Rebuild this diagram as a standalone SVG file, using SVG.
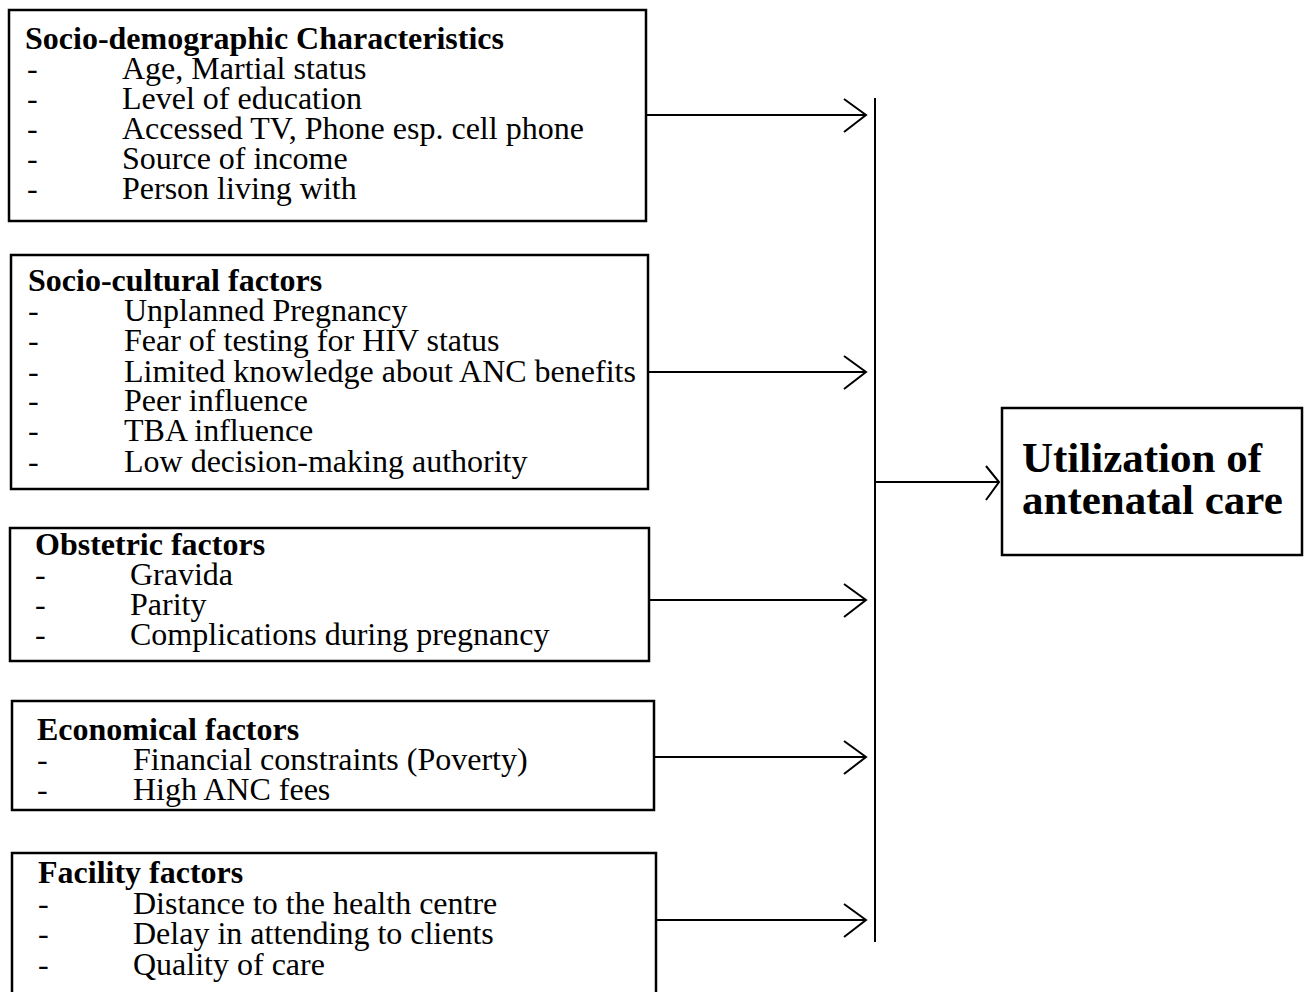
<svg xmlns="http://www.w3.org/2000/svg" width="1304" height="992" viewBox="0 0 1304 992">
<style>
.box{fill:#fff;stroke:#000;stroke-width:2.5}
.t{font-family:"Liberation Serif","Times New Roman",serif;font-size:32px;fill:#000}
.b{font-weight:bold}
.big{font-family:"Liberation Serif","Times New Roman",serif;font-size:43px;font-weight:bold;fill:#000}
.ln{stroke:#000;stroke-width:2;fill:none}
</style>
<defs>
<marker id="chev" viewBox="-26 -20 30 40" refX="0" refY="0" markerWidth="30" markerHeight="40" markerUnits="userSpaceOnUse" orient="auto" overflow="visible">
<path d="M-22,-16 L0,0 L-22,17" fill="none" stroke="#000" stroke-width="2"/>
</marker>
<marker id="chev2" viewBox="-20 -20 24 40" refX="0" refY="0" markerWidth="24" markerHeight="40" markerUnits="userSpaceOnUse" orient="auto" overflow="visible">
<path d="M-13,-16 L0,0 L-13,18" fill="none" stroke="#000" stroke-width="2"/>
</marker>
</defs>
<rect width="1304" height="992" fill="#fff"/>

<g id="connectors">
<line class="ln" x1="875" y1="98" x2="875" y2="942"/>
<line class="ln" x1="646" y1="115" x2="866" y2="115" marker-end="url(#chev)"/>
<line class="ln" x1="648" y1="372" x2="866" y2="372" marker-end="url(#chev)"/>
<line class="ln" x1="649" y1="600" x2="866" y2="600" marker-end="url(#chev)"/>
<line class="ln" x1="654" y1="757" x2="866" y2="757" marker-end="url(#chev)"/>
<line class="ln" x1="656" y1="920" x2="866" y2="920" marker-end="url(#chev)"/>
<line class="ln" x1="875" y1="482" x2="999" y2="482" marker-end="url(#chev2)"/>
</g>

<g id="sociodemographic">
<rect class="box" x="9" y="10" width="637" height="211"/>
<text class="t b" x="25" y="49">Socio-demographic Characteristics</text>
<text class="t" x="27" y="79">-</text><text class="t" x="122" y="79">Age, Martial status</text>
<text class="t" x="27" y="109">-</text><text class="t" x="122" y="109">Level of education</text>
<text class="t" x="27" y="139">-</text><text class="t" x="122" y="139">Accessed TV, Phone esp. cell phone</text>
<text class="t" x="27" y="169">-</text><text class="t" x="122" y="169">Source of income</text>
<text class="t" x="27" y="199">-</text><text class="t" x="122" y="199">Person living with</text>
</g>

<g id="sociocultural">
<rect class="box" x="11" y="255" width="637" height="234"/>
<text class="t b" x="28" y="291">Socio-cultural factors</text>
<text class="t" x="28" y="321">-</text><text class="t" x="124" y="321">Unplanned Pregnancy</text>
<text class="t" x="28" y="351">-</text><text class="t" x="124" y="351">Fear of testing for HIV status</text>
<text class="t" x="28" y="382">-</text><text class="t" x="124" y="382">Limited knowledge about ANC benefits</text>
<text class="t" x="28" y="411">-</text><text class="t" x="124" y="411">Peer influence</text>
<text class="t" x="28" y="441">-</text><text class="t" x="124" y="441">TBA influence</text>
<text class="t" x="28" y="472">-</text><text class="t" x="124" y="472">Low decision-making authority</text>
</g>

<g id="obstetric">
<rect class="box" x="10" y="528" width="639" height="133"/>
<text class="t b" x="35" y="555">Obstetric factors</text>
<text class="t" x="35" y="585">-</text><text class="t" x="130" y="585">Gravida</text>
<text class="t" x="35" y="615">-</text><text class="t" x="130" y="615">Parity</text>
<text class="t" x="35" y="645">-</text><text class="t" x="130" y="645">Complications during pregnancy</text>
</g>

<g id="economical">
<rect class="box" x="12" y="701" width="642" height="109"/>
<text class="t b" x="37" y="740">Economical factors</text>
<text class="t" x="37" y="770">-</text><text class="t" x="133" y="770">Financial constraints (Poverty)</text>
<text class="t" x="37" y="800">-</text><text class="t" x="133" y="800">High ANC fees</text>
</g>

<g id="facility">
<rect class="box" x="12" y="853" width="644" height="150"/>
<text class="t b" x="38" y="883">Facility factors</text>
<text class="t" x="38" y="914">-</text><text class="t" x="133" y="914">Distance to the health centre</text>
<text class="t" x="38" y="944">-</text><text class="t" x="133" y="944">Delay in attending to clients</text>
<text class="t" x="38" y="975">-</text><text class="t" x="133" y="975">Quality of care</text>
</g>

<g id="utilization">
<rect class="box" x="1002" y="408" width="300" height="147"/>
<text class="big" x="1022" y="472">Utilization of</text>
<text class="big" x="1022" y="514">antenatal care</text>
</g>
</svg>
